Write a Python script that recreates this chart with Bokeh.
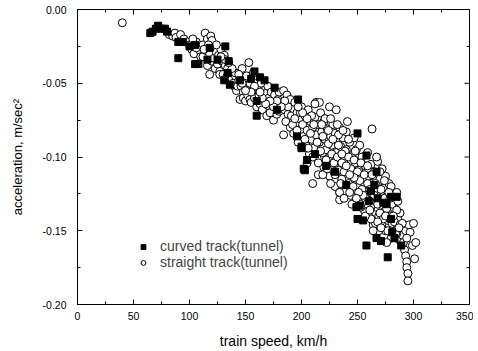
import math
from bokeh.plotting import figure
from bokeh.models import FixedTicker, NumeralTickFormatter, Legend, LegendItem, Range1d
from bokeh.embed import file_html
from bokeh.resources import INLINE

# curved track (tunnel) - filled squares
curved_speed = [65, 67, 70, 72, 75, 78, 80, 90, 90, 94, 100, 105, 105, 108, 116, 118, 125,
                132, 134, 135, 136, 131, 145, 155, 158, 160, 160, 163, 167, 176, 178,
                196, 197, 200, 200, 202, 203, 205, 212, 222, 230, 240, 249, 250, 250,
                252, 255, 258, 258, 260, 262, 265, 267, 267, 268, 271, 273, 276, 277,
                280, 280, 281, 283, 285, 289]
curved_acc = [-0.016, -0.015, -0.013, -0.011, -0.013, -0.013, -0.015, -0.022, -0.033, -0.022,
              -0.025, -0.024, -0.037, -0.037, -0.034, -0.026, -0.034,
              -0.025, -0.043, -0.035, -0.051, -0.048, -0.048, -0.047, -0.042, -0.062, -0.072,
              -0.046, -0.048, -0.053, -0.068,
              -0.086, -0.061, -0.093, -0.094, -0.108, -0.109, -0.102, -0.098, -0.106, -0.110,
              -0.119, -0.134, -0.084, -0.142, -0.133, -0.143, -0.160, -0.099, -0.130, -0.123,
              -0.119, -0.110, -0.155, -0.128, -0.157, -0.131, -0.132, -0.168,
              -0.142, -0.127, -0.151, -0.155, -0.127, -0.160]

# straight track (tunnel) - open circles
straight_speed = [40,
    82, 85, 87, 88, 92, 95, 98,
    100, 102, 104, 106, 108, 110, 110, 112, 112, 114, 115, 116, 116, 118, 118, 119, 120, 120,
    121, 122, 123, 124, 125, 126, 127, 127, 128, 129, 130, 131, 132, 133, 134, 136, 138, 139, 140,
    141, 141, 142, 143, 144, 145, 146, 147, 148, 148, 150, 150, 151, 152, 153, 154, 154, 155, 156,
    157, 158, 159, 160,
    161, 162, 163, 164, 165, 166, 167, 168, 169, 170, 170, 171, 172, 173, 174, 175, 176, 177, 178,
    179, 180, 180,
    184, 184, 183, 185, 186, 187, 188, 189, 190, 190, 191, 192, 193, 194, 195, 196, 197, 198, 199, 200,
    201, 202, 203, 204, 205, 206, 207, 208, 209, 210, 210, 211, 212, 213, 213, 214, 215, 215, 216,
    217, 218, 219, 220, 220, 216, 212,
    225, 231, 241,
    221, 222, 223, 224, 225, 226, 227, 228, 229, 230, 230, 231, 232, 233, 234, 234, 234, 235, 236,
    237, 238, 239, 240, 240,
    241, 242, 243, 244, 245, 246, 247, 248, 248, 249, 250, 251, 252, 253, 254, 255, 256, 257, 258,
    259, 260, 260,
    261, 262, 263, 263, 264, 265, 266, 267, 268, 269, 270, 271, 272, 272, 273, 274, 275, 275, 276,
    277, 278, 279, 280, 280,
    281, 282, 283, 284, 285, 286, 287, 288, 289, 290, 291, 292, 293, 293, 294, 294, 295, 295, 296,
    297, 299, 300, 301, 302,
    192, 196, 199, 203, 206, 208, 211, 214, 217, 219, 222, 224, 227, 229, 232, 233, 236, 238, 239,
    242, 244, 246, 247, 250, 252, 254, 256, 257, 259, 261, 262, 264, 266, 268, 270, 271, 273, 274,
    276, 277, 279, 281, 283, 285, 286, 288, 266, 269, 262, 258, 255, 251, 247, 243, 240, 236, 233,
    228, 224, 221, 218, 209, 205, 201, 197, 194, 188, 185, 182, 178, 175, 172, 168, 165, 163, 158,
    155, 150, 147, 144, 138, 135, 132, 128, 124, 117, 113, 106, 103,
    264, 276, 285, 290, 294, 234,
    205, 210, 215, 219, 223, 226, 230, 235, 238, 243, 245, 249, 253, 257, 261, 265, 268, 271, 275,
    279, 282, 284, 287, 226, 232, 237, 242, 248, 253, 259, 263, 267, 270, 274, 278]
straight_acc = [-0.009,
    -0.017, -0.018, -0.016, -0.019, -0.017, -0.020, -0.022,
    -0.024, -0.027, -0.030, -0.022, -0.026, -0.029, -0.032, -0.032, -0.024, -0.016, -0.028, -0.038,
    -0.020, -0.030, -0.044, -0.018, -0.021, -0.035,
    -0.026, -0.033, -0.040, -0.029, -0.037, -0.031, -0.042, -0.044, -0.027, -0.035, -0.044, -0.031,
    -0.038, -0.046, -0.040, -0.043, -0.047, -0.050, -0.052,
    -0.045, -0.043, -0.055, -0.052, -0.048, -0.061, -0.052, -0.040, -0.056, -0.060, -0.050, -0.062,
    -0.045, -0.058, -0.036, -0.050, -0.061, -0.063, -0.055,
    -0.043, -0.060, -0.050, -0.066,
    -0.053, -0.058, -0.064, -0.050, -0.068, -0.055, -0.061, -0.057, -0.072, -0.052, -0.065, -0.060,
    -0.070, -0.056, -0.063, -0.075, -0.058, -0.066, -0.071,
    -0.061, -0.069, -0.056,
    -0.085, -0.055, -0.063, -0.068, -0.076, -0.058, -0.071, -0.065, -0.080, -0.061, -0.072, -0.067,
    -0.084, -0.063, -0.077, -0.070, -0.090, -0.074, -0.082, -0.066,
    -0.078, -0.086, -0.072, -0.092, -0.082, -0.068, -0.098, -0.076, -0.088, -0.118, -0.080, -0.094,
    -0.073, -0.063, -0.085, -0.101, -0.078, -0.112, -0.090,
    -0.070, -0.083, -0.097, -0.107, -0.076, -0.063, -0.064,
    -0.066, -0.068, -0.076,
    -0.088, -0.095, -0.081, -0.101, -0.113, -0.086, -0.092, -0.078, -0.104, -0.120, -0.084, -0.097,
    -0.089, -0.109, -0.129, -0.080, -0.124, -0.093, -0.115,
    -0.087, -0.102, -0.123, -0.095, -0.083,
    -0.108, -0.118, -0.090, -0.126, -0.099, -0.112, -0.087, -0.131, -0.104, -0.095, -0.120, -0.109,
    -0.092, -0.127, -0.100, -0.115, -0.136, -0.106, -0.122,
    -0.097, -0.113, -0.140,
    -0.129, -0.105, -0.081, -0.118, -0.146, -0.110, -0.134, -0.124, -0.103, -0.140, -0.115, -0.130,
    -0.145, -0.108, -0.121, -0.137, -0.150, -0.113, -0.127,
    -0.143, -0.118, -0.133, -0.155, -0.120,
    -0.145, -0.128, -0.135, -0.150, -0.124, -0.142, -0.156, -0.138, -0.148, -0.153, -0.158, -0.163,
    -0.167, -0.150, -0.171, -0.175, -0.179, -0.184, -0.146,
    -0.151, -0.160, -0.145, -0.169, -0.158,
    -0.078, -0.082, -0.070, -0.088, -0.094, -0.084, -0.078, -0.090, -0.096, -0.086, -0.102, -0.091,
    -0.098, -0.110, -0.100, -0.092, -0.104, -0.110, -0.096,
    -0.100, -0.108, -0.120, -0.102, -0.110, -0.116, -0.122, -0.112, -0.128, -0.118, -0.122, -0.134,
    -0.126, -0.118, -0.132, -0.138, -0.122, -0.142, -0.128,
    -0.135, -0.150, -0.140, -0.132, -0.144, -0.136, -0.130, -0.146, -0.145, -0.150, -0.142, -0.132,
    -0.126, -0.124, -0.114, -0.112, -0.106, -0.098, -0.085,
    -0.088, -0.082, -0.074, -0.078, -0.072, -0.074, -0.070, -0.066, -0.074, -0.066, -0.062, -0.066,
    -0.062, -0.066, -0.062, -0.064, -0.060, -0.056, -0.052,
    -0.056, -0.055, -0.050, -0.044, -0.040, -0.036, -0.034, -0.032, -0.024, -0.024, -0.027, -0.026,
    -0.020,
    -0.150, -0.158, -0.152, -0.145, -0.155, -0.124,
    -0.104, -0.100, -0.104, -0.112, -0.108, -0.118, -0.112, -0.118, -0.128, -0.124, -0.132, -0.128,
    -0.134, -0.140, -0.136, -0.126, -0.144, -0.148, -0.140, -0.128, -0.140, -0.152, -0.148,
    -0.074, -0.078, -0.082, -0.088, -0.096, -0.104, -0.106, -0.112, -0.100, -0.110, -0.116, -0.124]

x_ticks = [0, 50, 100, 150, 200, 250, 300, 350]
x_minor = [25, 75, 125, 175, 225, 275, 325]
y_ticks = [-0.20, -0.15, -0.10, -0.05, 0.00]
y_minor = [-0.175, -0.125, -0.075, -0.025]

FONT = "Liberation Sans"

p = figure(width=473, height=351, output_backend="svg", toolbar_location=None,
           x_range=Range1d(x_ticks[0], x_ticks[-1]), y_range=Range1d(y_ticks[0], y_ticks[-1]),
           min_border_left=77, min_border_right=4, min_border_top=9, min_border_bottom=10)
p.xgrid.visible = False
p.ygrid.visible = False
p.outline_line_color = "black"
p.outline_line_width = 1
p.background_fill_color = "white"
p.border_fill_color = "white"

for ax in [p.xaxis[0], p.yaxis[0]]:
    ax.axis_line_color = "black"
    ax.axis_line_width = 1
    ax.major_tick_in = 5
    ax.major_tick_out = 0
    ax.minor_tick_in = 3
    ax.minor_tick_out = 0
    ax.major_tick_line_color = "black"
    ax.minor_tick_line_color = "black"
    ax.major_label_text_font = FONT
    ax.major_label_text_font_size = "10.5px"
    ax.major_label_text_color = "black"
    ax.axis_label_text_font = FONT
    ax.axis_label_text_font_style = "normal"
    ax.axis_label_text_color = "black"

p.xaxis[0].axis_label_text_font_size = "14px"
p.yaxis[0].axis_label_text_font_size = "13px"
p.xaxis[0].ticker = FixedTicker(ticks=x_ticks, minor_ticks=x_minor)
p.yaxis[0].ticker = FixedTicker(ticks=y_ticks, minor_ticks=y_minor)
p.yaxis[0].formatter = NumeralTickFormatter(format="0.00")
p.xaxis[0].axis_label = "train speed, km/h"
p.yaxis[0].axis_label = "acceleration, m/sec²"
p.xaxis[0].major_label_standoff = 7
p.xaxis[0].axis_label_standoff = 10
p.yaxis[0].major_label_standoff = 11
p.yaxis[0].axis_label_standoff = 15

# mirrored inward ticks on the top and right frame edges
top_y = [y_ticks[-1]] * len(x_ticks)
top_y_minor = [y_ticks[-1]] * len(x_minor)
right_x = [x_ticks[-1]] * len(y_ticks)
right_x_minor = [x_ticks[-1]] * len(y_minor)
p.ray(x=x_ticks, y=top_y, length=5, length_units="screen", angle=-math.pi / 2,
      line_color="black", line_width=1)
p.ray(x=x_minor, y=top_y_minor, length=3, length_units="screen", angle=-math.pi / 2,
      line_color="black", line_width=1)
p.ray(x=right_x, y=y_ticks, length=5, length_units="screen", angle=math.pi,
      line_color="black", line_width=1)
p.ray(x=right_x_minor, y=y_minor, length=3, length_units="screen", angle=math.pi,
      line_color="black", line_width=1)

r_str = p.scatter(straight_speed, straight_acc, marker="circle", size=8,
                  fill_color="white", line_color="black", line_width=1)
r_cur = p.scatter(curved_speed, curved_acc, marker="square", size=7,
                  fill_color="black", line_color="black", line_width=1)

legend = Legend(items=[LegendItem(label="curved track(tunnel)", renderers=[r_cur]),
                       LegendItem(label="straight track(tunnel)", renderers=[r_str])],
                location=(60, 34), padding=0, margin=0, spacing=0,
                glyph_width=12, glyph_height=15, label_height=15, label_standoff=11,
                label_text_font=FONT, label_text_font_size="14px",
                background_fill_alpha=0, border_line_alpha=0)
p.add_layout(legend, "center")

open("out.html", "w").write(file_html(p, INLINE))
